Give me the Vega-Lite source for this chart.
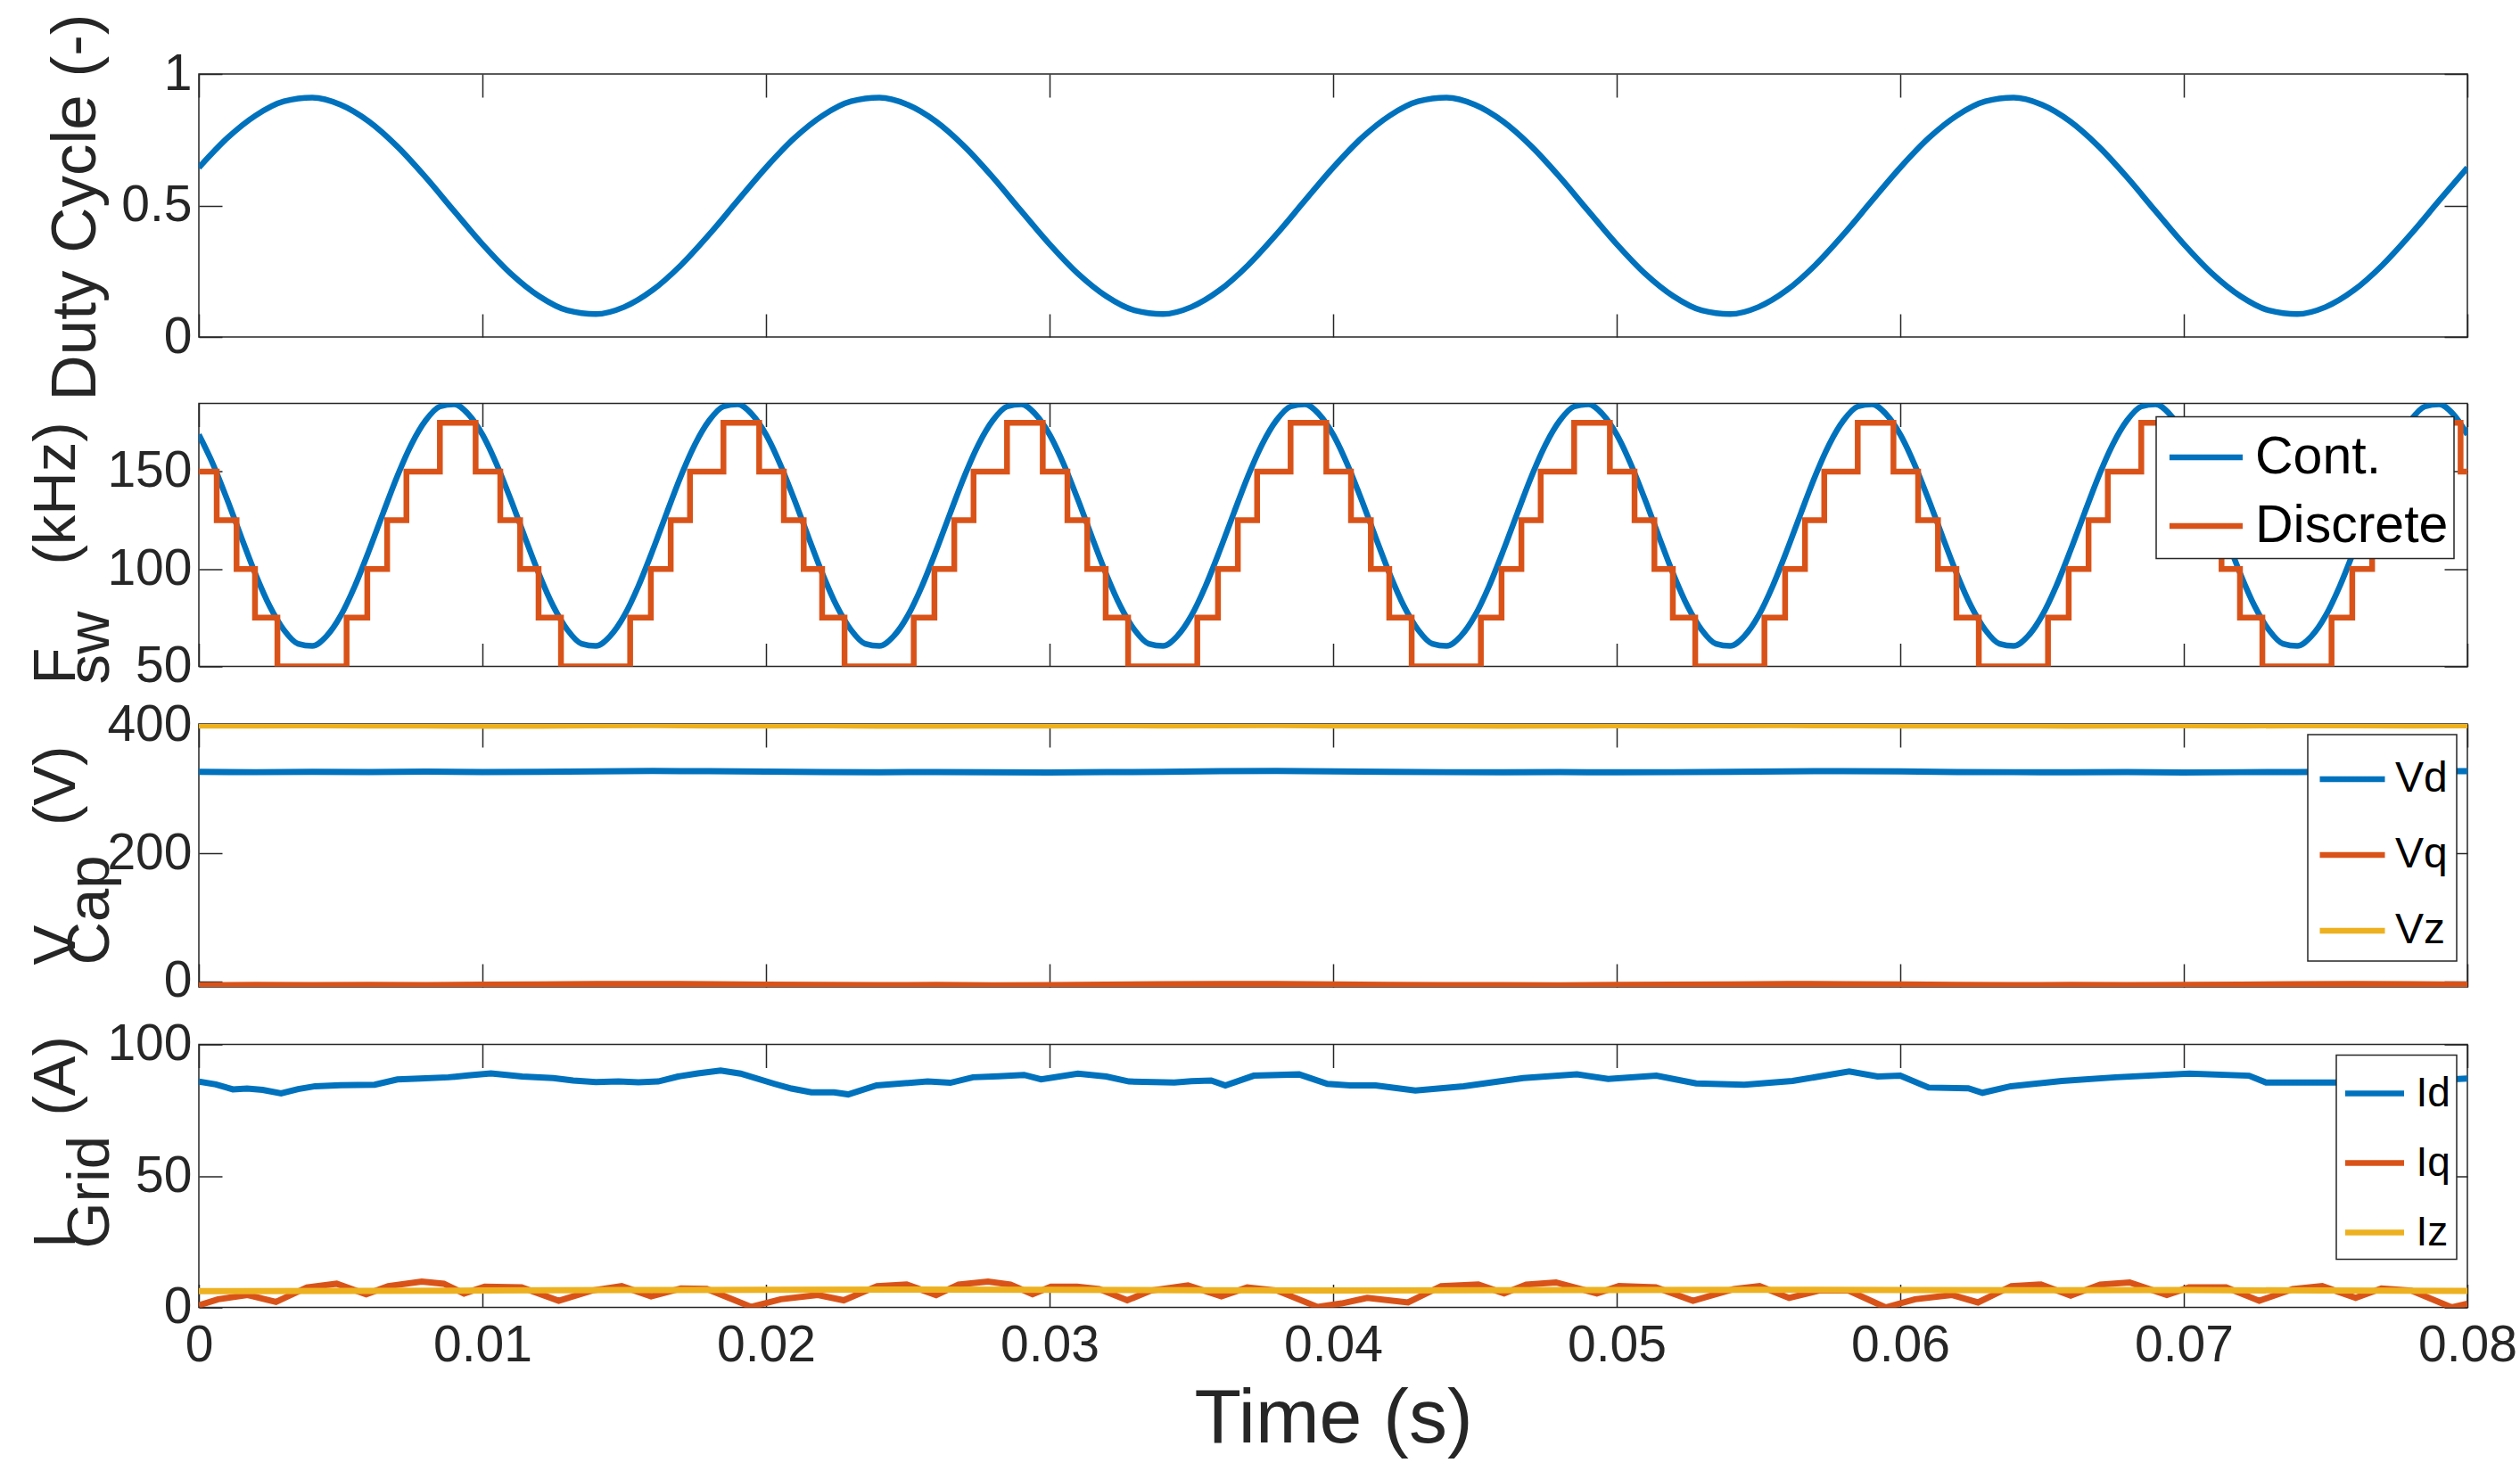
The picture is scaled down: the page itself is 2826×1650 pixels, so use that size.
{
"$schema": "https://vega.github.io/schema/vega-lite/v6.json",
"padding": {"left": 28, "top": 14, "right": 10, "bottom": 10},
"background": "white",
"config": {
  "font": "Liberation Sans",
  "view": {"stroke": "#262626", "strokeWidth": 1.5},
  "axis": {"grid": false, "domain": false, "tickSize": -26, "tickColor": "#262626", "tickWidth": 1.5, "labelFontSize": 57, "labelColor": "#262626", "labelPadding": 34, "labelFlush": false, "labelOverlap": false, "titleFontSize": 67, "titleFontWeight": "normal", "titleColor": "#262626"},
  "legend": {"fillColor": "white", "strokeColor": "#262626", "strokeWidth": 1.5, "labelColor": "#000000", "orient": "top-right", "labelLimit": 500}
},
"datasets": {
  "duty": [{"t":0,"v":0.644},{"t":0.001,"v":0.756},{"t":0.002,"v":0.842},{"t":0.003,"v":0.896},{"t":0.004,"v":0.91},{"t":0.005,"v":0.883},{"t":0.006,"v":0.819},{"t":0.007,"v":0.724},{"t":0.008,"v":0.607},{"t":0.009,"v":0.479},{"t":0.01,"v":0.353},{"t":0.011,"v":0.241},{"t":0.012,"v":0.155},{"t":0.013,"v":0.101},{"t":0.014,"v":0.087},{"t":0.015,"v":0.114},{"t":0.016,"v":0.178},{"t":0.017,"v":0.273},{"t":0.018,"v":0.39},{"t":0.019,"v":0.518},
    {"t":0.02,"v":0.644},{"t":0.021,"v":0.756},{"t":0.022,"v":0.842},{"t":0.023,"v":0.896},{"t":0.024,"v":0.91},{"t":0.025,"v":0.883},{"t":0.026,"v":0.819},{"t":0.027,"v":0.724},{"t":0.028,"v":0.607},{"t":0.029,"v":0.479},{"t":0.03,"v":0.353},{"t":0.031,"v":0.241},{"t":0.032,"v":0.155},{"t":0.033,"v":0.101},{"t":0.034,"v":0.087},{"t":0.035,"v":0.114},{"t":0.036,"v":0.178},{"t":0.037,"v":0.273},{"t":0.038,"v":0.39},{"t":0.039,"v":0.518},
    {"t":0.04,"v":0.644},{"t":0.041,"v":0.756},{"t":0.042,"v":0.842},{"t":0.043,"v":0.896},{"t":0.044,"v":0.91},{"t":0.045,"v":0.883},{"t":0.046,"v":0.819},{"t":0.047,"v":0.724},{"t":0.048,"v":0.607},{"t":0.049,"v":0.479},{"t":0.05,"v":0.353},{"t":0.051,"v":0.241},{"t":0.052,"v":0.155},{"t":0.053,"v":0.101},{"t":0.054,"v":0.087},{"t":0.055,"v":0.114},{"t":0.056,"v":0.178},{"t":0.057,"v":0.273},{"t":0.058,"v":0.39},{"t":0.059,"v":0.518},
    {"t":0.06,"v":0.644},{"t":0.061,"v":0.756},{"t":0.062,"v":0.842},{"t":0.063,"v":0.896},{"t":0.064,"v":0.91},{"t":0.065,"v":0.883},{"t":0.066,"v":0.819},{"t":0.067,"v":0.724},{"t":0.068,"v":0.607},{"t":0.069,"v":0.479},{"t":0.07,"v":0.353},{"t":0.071,"v":0.241},{"t":0.072,"v":0.155},{"t":0.073,"v":0.101},{"t":0.074,"v":0.087},{"t":0.075,"v":0.114},{"t":0.076,"v":0.178},{"t":0.077,"v":0.273},{"t":0.078,"v":0.39},{"t":0.079,"v":0.518},
    {"t":0.08,"v":0.644}],
  "fsw_c": [{"t":0,"v":169.0},{"t":0.0005,"v":153.8},{"t":0.001,"v":135.6},{"t":0.0015,"v":116.2},{"t":0.002,"v":97.3},{"t":0.0025,"v":80.9},{"t":0.003,"v":68.7},{"t":0.0035,"v":61.6},{"t":0.004,"v":60.5},{"t":0.0045,"v":65.5},{"t":0.005,"v":76.0},{"t":0.0055,"v":91.2},{"t":0.006,"v":109.4},{"t":0.0065,"v":128.8},{"t":0.007,"v":147.7},{"t":0.0075,"v":164.1},{"t":0.008,"v":176.3},{"t":0.0085,"v":183.4},{"t":0.009,"v":184.5},{"t":0.0095,"v":179.5},
    {"t":0.01,"v":169.0},{"t":0.0105,"v":153.8},{"t":0.011,"v":135.6},{"t":0.0115,"v":116.2},{"t":0.012,"v":97.3},{"t":0.0125,"v":80.9},{"t":0.013,"v":68.7},{"t":0.0135,"v":61.6},{"t":0.014,"v":60.5},{"t":0.0145,"v":65.5},{"t":0.015,"v":76.0},{"t":0.0155,"v":91.2},{"t":0.016,"v":109.4},{"t":0.0165,"v":128.8},{"t":0.017,"v":147.7},{"t":0.0175,"v":164.1},{"t":0.018,"v":176.3},{"t":0.0185,"v":183.4},{"t":0.019,"v":184.5},{"t":0.0195,"v":179.5},
    {"t":0.02,"v":169.0},{"t":0.0205,"v":153.8},{"t":0.021,"v":135.6},{"t":0.0215,"v":116.2},{"t":0.022,"v":97.3},{"t":0.0225,"v":80.9},{"t":0.023,"v":68.7},{"t":0.0235,"v":61.6},{"t":0.024,"v":60.5},{"t":0.0245,"v":65.5},{"t":0.025,"v":76.0},{"t":0.0255,"v":91.2},{"t":0.026,"v":109.4},{"t":0.0265,"v":128.8},{"t":0.027,"v":147.7},{"t":0.0275,"v":164.1},{"t":0.028,"v":176.3},{"t":0.0285,"v":183.4},{"t":0.029,"v":184.5},{"t":0.0295,"v":179.5},
    {"t":0.03,"v":169.0},{"t":0.0305,"v":153.8},{"t":0.031,"v":135.6},{"t":0.0315,"v":116.2},{"t":0.032,"v":97.3},{"t":0.0325,"v":80.9},{"t":0.033,"v":68.7},{"t":0.0335,"v":61.6},{"t":0.034,"v":60.5},{"t":0.0345,"v":65.5},{"t":0.035,"v":76.0},{"t":0.0355,"v":91.2},{"t":0.036,"v":109.4},{"t":0.0365,"v":128.8},{"t":0.037,"v":147.7},{"t":0.0375,"v":164.1},{"t":0.038,"v":176.3},{"t":0.0385,"v":183.4},{"t":0.039,"v":184.5},{"t":0.0395,"v":179.5},
    {"t":0.04,"v":169.0},{"t":0.0405,"v":153.8},{"t":0.041,"v":135.6},{"t":0.0415,"v":116.2},{"t":0.042,"v":97.3},{"t":0.0425,"v":80.9},{"t":0.043,"v":68.7},{"t":0.0435,"v":61.6},{"t":0.044,"v":60.5},{"t":0.0445,"v":65.5},{"t":0.045,"v":76.0},{"t":0.0455,"v":91.2},{"t":0.046,"v":109.4},{"t":0.0465,"v":128.8},{"t":0.047,"v":147.7},{"t":0.0475,"v":164.1},{"t":0.048,"v":176.3},{"t":0.0485,"v":183.4},{"t":0.049,"v":184.5},{"t":0.0495,"v":179.5},
    {"t":0.05,"v":169.0},{"t":0.0505,"v":153.8},{"t":0.051,"v":135.6},{"t":0.0515,"v":116.2},{"t":0.052,"v":97.3},{"t":0.0525,"v":80.9},{"t":0.053,"v":68.7},{"t":0.0535,"v":61.6},{"t":0.054,"v":60.5},{"t":0.0545,"v":65.5},{"t":0.055,"v":76.0},{"t":0.0555,"v":91.2},{"t":0.056,"v":109.4},{"t":0.0565,"v":128.8},{"t":0.057,"v":147.7},{"t":0.0575,"v":164.1},{"t":0.058,"v":176.3},{"t":0.0585,"v":183.4},{"t":0.059,"v":184.5},{"t":0.0595,"v":179.5},
    {"t":0.06,"v":169.0},{"t":0.0605,"v":153.8},{"t":0.061,"v":135.6},{"t":0.0615,"v":116.2},{"t":0.062,"v":97.3},{"t":0.0625,"v":80.9},{"t":0.063,"v":68.7},{"t":0.0635,"v":61.6},{"t":0.064,"v":60.5},{"t":0.0645,"v":65.5},{"t":0.065,"v":76.0},{"t":0.0655,"v":91.2},{"t":0.066,"v":109.4},{"t":0.0665,"v":128.8},{"t":0.067,"v":147.7},{"t":0.0675,"v":164.1},{"t":0.068,"v":176.3},{"t":0.0685,"v":183.4},{"t":0.069,"v":184.5},{"t":0.0695,"v":179.5},
    {"t":0.07,"v":169.0},{"t":0.0705,"v":153.8},{"t":0.071,"v":135.6},{"t":0.0715,"v":116.2},{"t":0.072,"v":97.3},{"t":0.0725,"v":80.9},{"t":0.073,"v":68.7},{"t":0.0735,"v":61.6},{"t":0.074,"v":60.5},{"t":0.0745,"v":65.5},{"t":0.075,"v":76.0},{"t":0.0755,"v":91.2},{"t":0.076,"v":109.4},{"t":0.0765,"v":128.8},{"t":0.077,"v":147.7},{"t":0.0775,"v":164.1},{"t":0.078,"v":176.3},{"t":0.0785,"v":183.4},{"t":0.079,"v":184.5},{"t":0.0795,"v":179.5},
    {"t":0.08,"v":169.0}],
  "fsw_d": [{"t":0,"v":150},
    {"t":0.00063,"v":125},{"t":0.00133,"v":100},{"t":0.00198,"v":75},{"t":0.00277,"v":50},{"t":0.00521,"v":75},{"t":0.00594,"v":100},{"t":0.00664,"v":125},{"t":0.00732,"v":150},{"t":0.0085,"v":175},{"t":0.00976,"v":150},
    {"t":0.01063,"v":125},{"t":0.01133,"v":100},{"t":0.01198,"v":75},{"t":0.01277,"v":50},{"t":0.01521,"v":75},{"t":0.01594,"v":100},{"t":0.01664,"v":125},{"t":0.01732,"v":150},{"t":0.0185,"v":175},{"t":0.01976,"v":150},
    {"t":0.02063,"v":125},{"t":0.02133,"v":100},{"t":0.02198,"v":75},{"t":0.02277,"v":50},{"t":0.02521,"v":75},{"t":0.02594,"v":100},{"t":0.02664,"v":125},{"t":0.02732,"v":150},{"t":0.0285,"v":175},{"t":0.02976,"v":150},
    {"t":0.03063,"v":125},{"t":0.03133,"v":100},{"t":0.03198,"v":75},{"t":0.03277,"v":50},{"t":0.03521,"v":75},{"t":0.03594,"v":100},{"t":0.03664,"v":125},{"t":0.03732,"v":150},{"t":0.0385,"v":175},{"t":0.03976,"v":150},
    {"t":0.04063,"v":125},{"t":0.04133,"v":100},{"t":0.04198,"v":75},{"t":0.04277,"v":50},{"t":0.04521,"v":75},{"t":0.04594,"v":100},{"t":0.04664,"v":125},{"t":0.04732,"v":150},{"t":0.0485,"v":175},{"t":0.04976,"v":150},
    {"t":0.05063,"v":125},{"t":0.05133,"v":100},{"t":0.05198,"v":75},{"t":0.05277,"v":50},{"t":0.05521,"v":75},{"t":0.05594,"v":100},{"t":0.05664,"v":125},{"t":0.05732,"v":150},{"t":0.0585,"v":175},{"t":0.05976,"v":150},
    {"t":0.06063,"v":125},{"t":0.06133,"v":100},{"t":0.06198,"v":75},{"t":0.06277,"v":50},{"t":0.06521,"v":75},{"t":0.06594,"v":100},{"t":0.06664,"v":125},{"t":0.06732,"v":150},{"t":0.0685,"v":175},{"t":0.06976,"v":150},
    {"t":0.07063,"v":125},{"t":0.07133,"v":100},{"t":0.07198,"v":75},{"t":0.07277,"v":50},{"t":0.07521,"v":75},{"t":0.07594,"v":100},{"t":0.07664,"v":125},{"t":0.07732,"v":150},{"t":0.0785,"v":175},{"t":0.07976,"v":150},
    {"t":0.08,"v":150}],
  "vd": [{"t":0,"v":327.5},{"t":0.002,"v":327.0},{"t":0.004,"v":327.6},{"t":0.006,"v":327.2},{"t":0.008,"v":327.8},{"t":0.01,"v":327.1},{"t":0.012,"v":327.5},{"t":0.014,"v":328.3},{"t":0.016,"v":328.9},{"t":0.018,"v":328.4},{"t":0.02,"v":327.9},{"t":0.022,"v":327.2},{"t":0.024,"v":326.8},{"t":0.026,"v":327.3},{"t":0.028,"v":326.9},{"t":0.03,"v":326.6},{"t":0.032,"v":327.1},{"t":0.034,"v":327.5},{"t":0.036,"v":328.4},{"t":0.038,"v":328.9},{"t":0.04,"v":328.3},{"t":0.042,"v":327.6},{"t":0.044,"v":327.0},{"t":0.046,"v":326.8},{"t":0.048,"v":327.2},{"t":0.05,"v":326.7},{"t":0.052,"v":327.0},{"t":0.054,"v":327.4},{"t":0.056,"v":328.3},{"t":0.058,"v":328.7},{"t":0.06,"v":328.1},{"t":0.062,"v":327.3},{"t":0.064,"v":327.0},{"t":0.066,"v":326.8},{"t":0.068,"v":327.1},{"t":0.07,"v":326.6},{"t":0.072,"v":327.0},{"t":0.074,"v":327.3},{"t":0.076,"v":327.8},{"t":0.078,"v":328.6},{"t":0.08,"v":328.4}],
  "vq": [{"t":0,"v":-6.5},{"t":0.002,"v":-6.0},{"t":0.004,"v":-6.2},{"t":0.006,"v":-5.8},{"t":0.008,"v":-6.1},{"t":0.01,"v":-5.6},{"t":0.012,"v":-5.2},{"t":0.014,"v":-4.6},{"t":0.016,"v":-4.3},{"t":0.018,"v":-4.8},{"t":0.02,"v":-5.5},{"t":0.022,"v":-6.0},{"t":0.024,"v":-6.3},{"t":0.026,"v":-6.0},{"t":0.028,"v":-6.4},{"t":0.03,"v":-6.1},{"t":0.032,"v":-5.5},{"t":0.034,"v":-4.9},{"t":0.036,"v":-4.4},{"t":0.038,"v":-4.6},{"t":0.04,"v":-5.2},{"t":0.042,"v":-5.9},{"t":0.044,"v":-6.3},{"t":0.046,"v":-6.1},{"t":0.048,"v":-6.4},{"t":0.05,"v":-6.0},{"t":0.052,"v":-5.6},{"t":0.054,"v":-5.0},{"t":0.056,"v":-4.5},{"t":0.058,"v":-4.7},{"t":0.06,"v":-5.3},{"t":0.062,"v":-5.9},{"t":0.064,"v":-6.2},{"t":0.066,"v":-6.0},{"t":0.068,"v":-6.3},{"t":0.07,"v":-5.9},{"t":0.072,"v":-5.4},{"t":0.074,"v":-4.8},{"t":0.076,"v":-4.4},{"t":0.078,"v":-4.9},{"t":0.08,"v":-5.6}],
  "vz": [{"t":0,"v":400.2},{"t":0.002,"v":400.0},{"t":0.004,"v":400.4},{"t":0.006,"v":399.9},{"t":0.008,"v":400.1},{"t":0.01,"v":399.6},{"t":0.012,"v":399.8},{"t":0.014,"v":400.3},{"t":0.016,"v":400.6},{"t":0.018,"v":400.2},{"t":0.02,"v":400.0},{"t":0.022,"v":400.3},{"t":0.024,"v":399.8},{"t":0.026,"v":399.6},{"t":0.028,"v":400.0},{"t":0.03,"v":400.2},{"t":0.032,"v":400.5},{"t":0.034,"v":400.1},{"t":0.036,"v":400.4},{"t":0.038,"v":400.6},{"t":0.04,"v":400.2},{"t":0.042,"v":399.9},{"t":0.044,"v":400.1},{"t":0.046,"v":399.7},{"t":0.048,"v":399.9},{"t":0.05,"v":400.3},{"t":0.052,"v":400.0},{"t":0.054,"v":400.4},{"t":0.056,"v":400.6},{"t":0.058,"v":400.3},{"t":0.06,"v":400.1},{"t":0.062,"v":399.9},{"t":0.064,"v":400.2},{"t":0.066,"v":399.7},{"t":0.068,"v":400.0},{"t":0.07,"v":400.3},{"t":0.072,"v":400.1},{"t":0.074,"v":400.4},{"t":0.076,"v":400.5},{"t":0.078,"v":400.2},{"t":0.08,"v":400.4}],
  "id": [{"t":0,"v":85.9},{"t":0.0006,"v":84.8},{"t":0.0012,"v":82.9},{"t":0.0017,"v":83.2},{"t":0.00225,"v":82.7},{"t":0.0029,"v":81.4},{"t":0.0035,"v":83.0},{"t":0.0041,"v":84.1},{"t":0.005,"v":84.5},{"t":0.0062,"v":84.7},{"t":0.007,"v":86.7},{"t":0.0078,"v":87.0},{"t":0.0088,"v":87.5},{"t":0.0095,"v":88.2},{"t":0.0103,"v":89.0},{"t":0.0114,"v":87.8},{"t":0.0125,"v":87.2},{"t":0.0132,"v":86.3},{"t":0.014,"v":85.7},{"t":0.0148,"v":85.9},{"t":0.0155,"v":85.6},{"t":0.0162,"v":85.9},{"t":0.0169,"v":87.8},{"t":0.0176,"v":89.0},{"t":0.0184,"v":90.1},{"t":0.0191,"v":88.9},{"t":0.0203,"v":85.0},{"t":0.0209,"v":83.2},{"t":0.0216,"v":81.8},{"t":0.0224,"v":81.8},{"t":0.0229,"v":81.0},{"t":0.0239,"v":84.4},{"t":0.0257,"v":85.9},{"t":0.0265,"v":85.4},{"t":0.0273,"v":87.5},{"t":0.0282,"v":87.9},{"t":0.0291,"v":88.4},{"t":0.0297,"v":86.7},{"t":0.031,"v":88.9},{"t":0.032,"v":87.8},{"t":0.0328,"v":85.9},{"t":0.0344,"v":85.5},{"t":0.035,"v":86.0},{"t":0.0357,"v":86.3},{"t":0.0362,"v":84.4},{"t":0.0372,"v":88.1},{"t":0.0388,"v":88.6},{"t":0.0398,"v":85.0},{"t":0.0406,"v":84.4},{"t":0.0415,"v":84.4},{"t":0.0429,"v":82.5},{"t":0.0446,"v":84.1},{"t":0.0467,"v":87.2},{"t":0.0486,"v":88.6},{"t":0.0497,"v":86.9},{"t":0.0514,"v":88.1},{"t":0.0528,"v":85.2},{"t":0.0545,"v":84.7},{"t":0.0562,"v":86.1},{"t":0.0582,"v":89.7},{"t":0.0592,"v":87.8},{"t":0.06,"v":88.1},{"t":0.061,"v":83.6},{"t":0.0624,"v":83.3},{"t":0.0629,"v":81.6},{"t":0.0639,"v":84.1},{"t":0.0657,"v":86.1},{"t":0.0676,"v":87.5},{"t":0.0702,"v":88.9},{"t":0.0723,"v":88.1},{"t":0.0729,"v":85.5},{"t":0.0754,"v":85.5},{"t":0.0775,"v":85.7},{"t":0.08,"v":87.0}],
  "iq": [{"t":0,"v":0.8},{"t":0.00068,"v":3.1},{"t":0.00172,"v":4.7},{"t":0.00272,"v":2.1},{"t":0.00381,"v":7.6},{"t":0.00486,"v":9.0},{"t":0.0059,"v":5.0},{"t":0.00668,"v":8.1},{"t":0.00786,"v":9.8},{"t":0.00864,"v":9.0},{"t":0.00935,"v":5.3},{"t":0.01008,"v":7.9},{"t":0.01138,"v":7.6},{"t":0.01269,"v":2.5},{"t":0.01386,"v":6.4},{"t":0.01491,"v":8.1},{"t":0.01595,"v":4.2},{"t":0.017,"v":7.2},{"t":0.01791,"v":7.0},{"t":0.01948,"v":0.2},{"t":0.02052,"v":3.1},{"t":0.02183,"v":4.7},{"t":0.02274,"v":2.7},{"t":0.02392,"v":8.1},{"t":0.02496,"v":8.7},{"t":0.026,"v":4.7},{"t":0.02679,"v":8.7},{"t":0.02783,"v":9.8},{"t":0.02862,"v":8.7},{"t":0.0294,"v":5.0},{"t":0.03005,"v":7.9},{"t":0.03097,"v":7.9},{"t":0.03175,"v":7.0},{"t":0.03274,"v":2.7},{"t":0.03358,"v":6.4},{"t":0.03488,"v":8.4},{"t":0.03606,"v":4.2},{"t":0.03697,"v":7.6},{"t":0.03802,"v":6.4},{"t":0.03945,"v":0.2},{"t":0.0403,"v":1.5},{"t":0.0412,"v":3.6},{"t":0.04264,"v":1.9},{"t":0.04381,"v":8.1},{"t":0.04512,"v":8.7},{"t":0.04603,"v":5.3},{"t":0.04681,"v":8.7},{"t":0.04786,"v":9.5},{"t":0.0493,"v":5.3},{"t":0.05008,"v":8.1},{"t":0.05138,"v":7.6},{"t":0.05269,"v":2.5},{"t":0.05413,"v":7.0},{"t":0.05504,"v":8.1},{"t":0.05608,"v":3.6},{"t":0.05713,"v":6.4},{"t":0.05817,"v":6.4},{"t":0.05948,"v":0},{"t":0.06052,"v":3.1},{"t":0.06183,"v":4.7},{"t":0.06274,"v":1.9},{"t":0.06392,"v":8.1},{"t":0.06496,"v":8.7},{"t":0.06601,"v":4.5},{"t":0.06705,"v":8.7},{"t":0.06809,"v":9.5},{"t":0.0694,"v":4.7},{"t":0.07018,"v":7.6},{"t":0.07149,"v":7.6},{"t":0.07266,"v":2.5},{"t":0.07384,"v":7.0},{"t":0.07488,"v":8.1},{"t":0.07606,"v":3.6},{"t":0.07697,"v":7.2},{"t":0.07802,"v":6.4},{"t":0.07945,"v":0},{"t":0.08,"v":1.4}],
  "iz": [{"t":0,"v":6.2},{"t":0.005,"v":6.3},{"t":0.01,"v":6.4},{"t":0.015,"v":6.6},{"t":0.02,"v":6.7},{"t":0.025,"v":6.8},{"t":0.03,"v":6.7},{"t":0.035,"v":6.5},{"t":0.04,"v":6.4},{"t":0.045,"v":6.5},{"t":0.05,"v":6.6},{"t":0.055,"v":6.7},{"t":0.06,"v":6.6},{"t":0.065,"v":6.5},{"t":0.07,"v":6.6},{"t":0.075,"v":6.4},{"t":0.08,"v":6.3}]
},
"vconcat": [
  {
    "width": 2544, "height": 295,
    "data": {"name": "duty"},
    "layer": [
      {"mark": {"type": "line", "color": "#0072BD", "strokeWidth": 6.5, "interpolate": "monotone", "clip": true},
       "encoding": {
         "x": {"field": "t", "type": "quantitative", "scale": {"domain": [0, 0.08], "nice": false, "zero": false}, "axis": {"orient": "bottom", "values": [0,0.01,0.02,0.03,0.04,0.05,0.06,0.07,0.08], "labels": false, "title": null}},
         "y": {"field": "v", "type": "quantitative", "scale": {"domain": [0, 1], "nice": false, "zero": false}, "axis": {"orient": "left", "values": [0,0.5,1], "format": "~g", "title": "Duty Cycle (-)", "titleFontSize": 71, "titleX": -117, "titleY": 149, "titleAngle": 270, "titleAlign": "center", "titleBaseline": "alphabetic"}}}},
      {"mark": {"type": "line", "opacity": 0},
       "encoding": {
         "x": {"field": "t", "type": "quantitative", "scale": {"domain": [0, 0.08], "nice": false, "zero": false}, "axis": {"orient": "top", "values": [0,0.01,0.02,0.03,0.04,0.05,0.06,0.07,0.08], "labels": false, "title": null}},
         "y": {"field": "v", "type": "quantitative", "scale": {"domain": [0, 1], "nice": false, "zero": false}, "axis": {"orient": "right", "values": [0,0.5,1], "labels": false, "title": null}}}}
    ],
    "resolve": {"axis": {"x": "independent", "y": "independent"}}
  },
  {
    "vconcat": [
      {
        "width": 2544, "height": 295,
        "layer": [
          {"data": {"name": "fsw_c"},
           "mark": {"type": "line", "strokeWidth": 6.5, "interpolate": "monotone", "clip": true},
           "encoding": {
             "x": {"field": "t", "type": "quantitative", "scale": {"domain": [0, 0.08], "nice": false, "zero": false}, "axis": {"orient": "bottom", "values": [0,0.01,0.02,0.03,0.04,0.05,0.06,0.07,0.08], "labels": false, "title": null}},
             "y": {"field": "v", "type": "quantitative", "scale": {"domain": [50, 185], "nice": false, "zero": false}, "axis": {"orient": "left", "values": [50,100,150], "title": ["F\u00a0\u00a0\u00a0\u00a0\u00a0(kHz)", "\u00a0\u00a0sw"], "titleX": -140, "titleY": 314.5, "titleAngle": 270, "titleAlign": "left", "titleBaseline": "alphabetic", "titleLineHeight": 38}},
             "color": {"datum": "Cont.", "type": "nominal", "scale": {"domain": ["Cont.", "Discrete"], "range": ["#0072BD", "#D95319"]},
               "legend": {"title": null, "orient": "top-right", "offset": 15, "padding": 6, "symbolType": "M-0.85,0H1.43", "symbolSize": 5184, "symbolStrokeWidth": 6.5, "labelFontSize": 59, "labelOffset": 26, "rowPadding": 7, "labelLimit": 500}}}},
          {"data": {"name": "fsw_d"},
           "mark": {"type": "line", "strokeWidth": 6.5, "interpolate": "step-after", "clip": true},
           "encoding": {
             "x": {"field": "t", "type": "quantitative", "axis": null},
             "y": {"field": "v", "type": "quantitative", "axis": null},
             "color": {"datum": "Discrete", "type": "nominal"}}},
          {"data": {"name": "fsw_c"},
           "mark": {"type": "line", "opacity": 0},
           "encoding": {
             "x": {"field": "t", "type": "quantitative", "scale": {"domain": [0, 0.08], "nice": false, "zero": false}, "axis": {"orient": "top", "values": [0,0.01,0.02,0.03,0.04,0.05,0.06,0.07,0.08], "labels": false, "title": null}},
             "y": {"field": "v", "type": "quantitative", "scale": {"domain": [50, 185], "nice": false, "zero": false}, "axis": {"orient": "right", "values": [50,100,150], "labels": false, "title": null}}}}
        ],
        "resolve": {"axis": {"x": "independent", "y": "independent"}}
      },
      {
        "width": 2544, "height": 295,
        "layer": [
          {"data": {"name": "vd"},
           "mark": {"type": "line", "strokeWidth": 7, "clip": true},
           "encoding": {
             "x": {"field": "t", "type": "quantitative", "scale": {"domain": [0, 0.08], "nice": false, "zero": false}, "axis": {"orient": "bottom", "values": [0,0.01,0.02,0.03,0.04,0.05,0.06,0.07,0.08], "labels": false, "title": null}},
             "y": {"field": "v", "type": "quantitative", "scale": {"domain": [-9, 402.5], "nice": false, "zero": false}, "axis": {"orient": "left", "values": [0,200,400], "title": ["V\u00a0\u00a0\u00a0\u00a0\u00a0\u00a0(V)", "\u00a0\u00a0Cap"], "titleX": -140, "titleY": 270, "titleAngle": 270, "titleAlign": "left", "titleBaseline": "alphabetic", "titleLineHeight": 38}},
             "color": {"datum": "Vd", "type": "nominal", "scale": {"domain": ["Vd", "Vq", "Vz"], "range": ["#0072BD", "#D95319", "#EDB120"]},
               "legend": {"title": null, "orient": "top-right", "offset": 12, "padding": 10, "symbolType": "stroke", "symbolSize": 5329, "symbolStrokeWidth": 6.5, "labelFontSize": 48, "labelOffset": 8, "rowPadding": 21}}}},
          {"data": {"name": "vq"},
           "mark": {"type": "line", "strokeWidth": 7, "clip": true},
           "encoding": {
             "x": {"field": "t", "type": "quantitative", "axis": null},
             "y": {"field": "v", "type": "quantitative", "axis": null},
             "color": {"datum": "Vq", "type": "nominal"}}},
          {"data": {"name": "vz"},
           "mark": {"type": "line", "strokeWidth": 7, "clip": true},
           "encoding": {
             "x": {"field": "t", "type": "quantitative", "axis": null},
             "y": {"field": "v", "type": "quantitative", "axis": null},
             "color": {"datum": "Vz", "type": "nominal"}}},
          {"data": {"name": "vd"},
           "mark": {"type": "line", "opacity": 0},
           "encoding": {
             "x": {"field": "t", "type": "quantitative", "scale": {"domain": [0, 0.08], "nice": false, "zero": false}, "axis": {"orient": "top", "values": [0,0.01,0.02,0.03,0.04,0.05,0.06,0.07,0.08], "labels": false, "title": null}},
             "y": {"field": "v", "type": "quantitative", "scale": {"domain": [-9, 402.5], "nice": false, "zero": false}, "axis": {"orient": "right", "values": [0,200,400], "labels": false, "title": null}}}}
        ],
        "resolve": {"axis": {"x": "independent", "y": "independent"}}
      },
      {
        "width": 2544, "height": 295,
        "layer": [
          {"data": {"name": "id"},
           "mark": {"type": "line", "strokeWidth": 7, "clip": true},
           "encoding": {
             "x": {"field": "t", "type": "quantitative", "scale": {"domain": [0, 0.08], "nice": false, "zero": false}, "axis": {"orient": "bottom", "values": [0,0.01,0.02,0.03,0.04,0.05,0.06,0.07,0.08], "format": "~g", "labelPadding": 41, "title": "Time (s)", "titleFontSize": 86, "titleY": 151, "titleBaseline": "alphabetic"}},
             "y": {"field": "v", "type": "quantitative", "scale": {"domain": [0, 100], "nice": false, "zero": false}, "axis": {"orient": "left", "values": [0,50,100], "title": ["I\u00a0\u00a0\u00a0\u00a0\u00a0\u00a0\u00a0(A)", "\u00a0Grid"], "titleX": -140, "titleY": 228.5, "titleAngle": 270, "titleAlign": "left", "titleBaseline": "alphabetic", "titleLineHeight": 38}},
             "color": {"datum": "Id", "type": "nominal", "scale": {"domain": ["Id", "Iq", "Iz"], "range": ["#0072BD", "#D95319", "#EDB120"]},
               "legend": {"title": null, "orient": "top-right", "offset": 12, "padding": 6.5, "symbolType": "stroke", "symbolSize": 4356, "symbolStrokeWidth": 6.5, "labelFontSize": 46, "labelOffset": 10, "rowPadding": 18}}}},
          {"data": {"name": "iq"},
           "mark": {"type": "line", "strokeWidth": 7, "clip": true},
           "encoding": {
             "x": {"field": "t", "type": "quantitative", "axis": null},
             "y": {"field": "v", "type": "quantitative", "axis": null},
             "color": {"datum": "Iq", "type": "nominal"}}},
          {"data": {"name": "iz"},
           "mark": {"type": "line", "strokeWidth": 7, "clip": true},
           "encoding": {
             "x": {"field": "t", "type": "quantitative", "axis": null},
             "y": {"field": "v", "type": "quantitative", "axis": null},
             "color": {"datum": "Iz", "type": "nominal"}}},
          {"data": {"name": "id"},
           "mark": {"type": "line", "opacity": 0},
           "encoding": {
             "x": {"field": "t", "type": "quantitative", "scale": {"domain": [0, 0.08], "nice": false, "zero": false}, "axis": {"orient": "top", "values": [0,0.01,0.02,0.03,0.04,0.05,0.06,0.07,0.08], "labels": false, "title": null}},
             "y": {"field": "v", "type": "quantitative", "scale": {"domain": [0, 100], "nice": false, "zero": false}, "axis": {"orient": "right", "values": [0,50,100], "labels": false, "title": null}}}}
        ],
        "resolve": {"axis": {"x": "independent", "y": "independent"}}
      }
    ],
    "spacing": 64.5,
    "bounds": "flush",
    "resolve": {"scale": {"color": "independent"}, "legend": {"color": "independent"}}
  }
],
"spacing": 74.5,
"bounds": "flush",
"resolve": {"scale": {"color": "independent"}, "legend": {"color": "independent"}}
}
